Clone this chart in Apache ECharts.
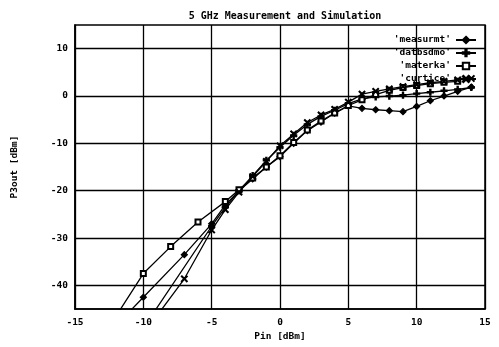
<!DOCTYPE html>
<html>
<head>
<meta charset="utf-8">
<script src="https://cdn.jsdelivr.net/npm/echarts@6/dist/echarts.min.js"></script>
<style>
html,body{margin:0;padding:0;background:#fff;}
#c{width:499px;height:347px;}
</style>
</head>
<body>
<div id="c"></div>
<script>
var titleText = "5 GHz Measurement and Simulation";
var xName = "Pin [dBm]";
var yName = "P3out [dBm]";
var seriesNames = ["'measurmt'", "'datbsdmo'", "'materka'", "'curtice'"];
var yTicks = [-40, -30, -20, -10, 0, 10];

var pinMeas = [-12, -10, -7, -5, -4, -3, -2, -1, 0, 1, 2, 3, 4, 5, 6, 7, 8, 9, 10, 11, 12, 13, 14];
var p3Meas  = [-48.5, -42.5, -33.5, -27, -23, -20, -17.5, -15, -12.8, -10, -7.3, -5.5, -3.6, -2.1, -2.6, -2.9, -3.1, -3.3, -2.2, -1.0, 0.0, 1.0, 1.9];

var pinDat = [-10, -5, -4, -3, -2, -1, 0, 1, 2, 3, 4, 5, 6, 7, 8, 9, 10, 11, 12, 13, 14];
var p3Dat  = [-49, -27.5, -23.5, -20, -16.8, -13.6, -10.8, -8.3, -6.0, -4.3, -3.0, -1.6, -0.6, -0.2, 0.0, 0.2, 0.5, 0.8, 1.1, 1.4, 1.8];

var pinMat = [-12, -10, -8, -6, -4, -3, -2, -1, 0, 1, 2, 3, 4, 5, 6, 7, 8, 9, 10, 11, 12, 13];
var p3Mat  = [-46.5, -37.5, -31.8, -26.6, -22.3, -19.8, -17.3, -15.0, -12.6, -9.8, -7.2, -5.3, -3.6, -2.0, -0.8, 0.3, 1.2, 1.8, 2.2, 2.6, 2.9, 3.1];

var pinCur = [-9, -7, -5, -4, -3, -2, -1, 0, 1, 2, 3, 4, 5, 6, 7, 8, 9, 10, 11, 12, 13, 14];
var p3Cur  = [-46.4, -38.6, -28.3, -24, -20.3, -17, -13.8, -10.5, -8.0, -5.6, -4.0, -2.8, -1.3, 0.4, 1.0, 1.5, 2.0, 2.4, 2.8, 3.1, 3.4, 3.7];

function pairs(xs, ys) { return xs.map(function (x, i) { return [x, ys[i]]; }); }

var FONT = "'DejaVu Sans Mono', 'Liberation Mono', monospace";
var plusPath = 'path://M4,0H6V4H10V6H6V10H4V6H0V4H4Z';
var crossPath = 'path://M0,1L1,0L5,4L9,0L10,1L6,5L10,9L9,10L5,6L1,10L0,9L4,5Z';

function mkSeries(name, data, symbol, size) {
  return {
    name: name, type: 'line', data: data,
    symbol: symbol, symbolSize: size, showSymbol: true,
    lineStyle: {color: '#000', width: 1.3},
    itemStyle: {color: '#000', borderColor: '#000', borderWidth: 1.2},
    clip: true, animation: false, silent: true
  };
}

var chart = echarts.init(document.getElementById('c'), null, {renderer: 'canvas'});
chart.setOption({
  backgroundColor: '#fff',
  animation: false,
  title: {
    text: titleText, left: 280, top: 6, textAlign: 'center',
    textStyle: {fontFamily: FONT, fontSize: 10, fontWeight: 'bold', color: '#000'}
  },
  legend: {
    orient: 'vertical', right: 22, top: 35, padding: 0,
    itemWidth: 20, itemHeight: 8, itemGap: 3,
    align: 'right',
    formatter: function (n) { while (n.length < 10) n = ' ' + n; return n; },
    textStyle: {fontFamily: FONT, fontSize: 9.5, fontWeight: 'bold', color: '#000', lineHeight: 9},
    data: seriesNames
  },
  grid: {left: 75, right: 14, top: 25, bottom: 32, containLabel: false,
         show: true, borderColor: '#000', borderWidth: 1.5, backgroundColor: 'transparent'},
  xAxis: {
    type: 'value', min: -15, max: 15, interval: 5,
    name: xName, nameLocation: 'middle', nameGap: 19,
    nameTextStyle: {fontFamily: FONT, fontSize: 9.5, fontWeight: 'bold', color: '#000'},
    axisLine: {show: true, onZero: false, lineStyle: {color: '#000', width: 1.5}},
    axisTick: {show: true, inside: true, length: 4, lineStyle: {color: '#000'}},
    axisLabel: {fontFamily: FONT, fontSize: 9.5, fontWeight: 'bold', color: '#000', margin: 8},
    splitLine: {show: true, lineStyle: {color: '#000', width: 1.3}}
  },
  yAxis: {
    type: 'value', min: -45, max: 15,
    name: yName, nameLocation: 'middle', nameGap: 55,
    nameTextStyle: {fontFamily: FONT, fontSize: 9.5, fontWeight: 'bold', color: '#000'},
    axisLine: {show: true, onZero: false, lineStyle: {color: '#000', width: 1.5}},
    axisTick: {show: true, inside: true, length: 4, customValues: yTicks, lineStyle: {color: '#000'}},
    axisLabel: {fontFamily: FONT, fontSize: 9.5, fontWeight: 'bold', color: '#000', margin: 7, customValues: yTicks},
    splitLine: {show: true, lineStyle: {color: '#000', width: 1.3}}
  },
  series: [
    mkSeries(seriesNames[0], pairs(pinMeas, p3Meas), 'diamond', 6),
    mkSeries(seriesNames[1], pairs(pinDat, p3Dat), plusPath, 6),
    mkSeries(seriesNames[2], pairs(pinMat, p3Mat), 'emptyRect', 5),
    mkSeries(seriesNames[3], pairs(pinCur, p3Cur), crossPath, 6)
  ]
});
</script>
</body>
</html>
